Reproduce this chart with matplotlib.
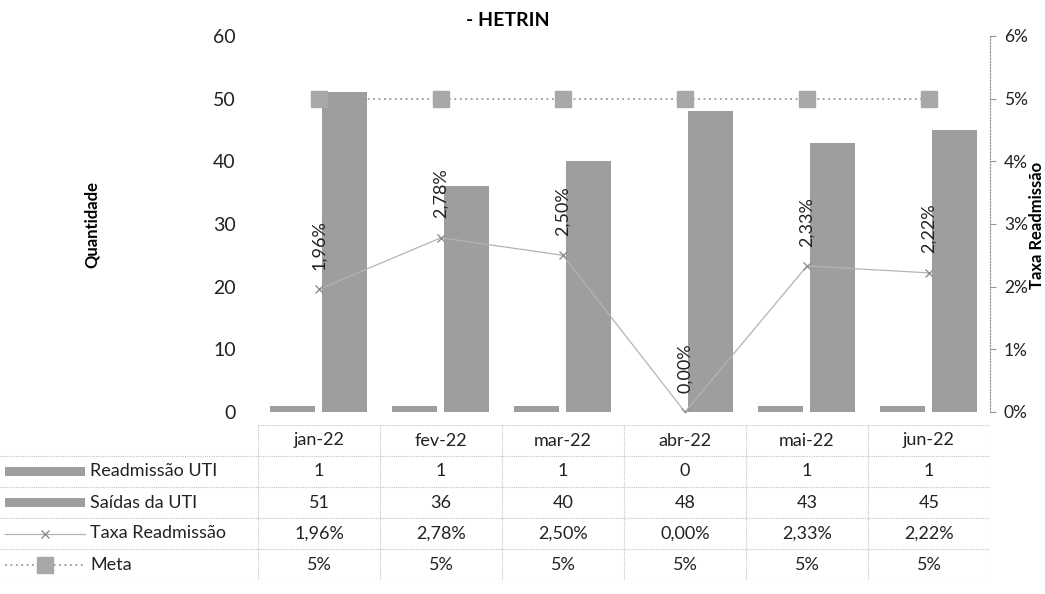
import matplotlib.pyplot as plt
import numpy as np
from matplotlib.patches import Rectangle

plt.rcParams['font.family'] = ['Lato', 'DejaVu Sans']

# data
meses = ['jan-22', 'fev-22', 'mar-22', 'abr-22', 'mai-22', 'jun-22']
readmissao = [1, 1, 1, 0, 1, 1]
saidas = [51, 36, 40, 48, 43, 45]
taxa = [0.0196, 0.0278, 0.0250, 0.0000, 0.0233, 0.0222]
meta = [0.05, 0.05, 0.05, 0.05, 0.05, 0.05]

taxa_txt = ['1,96%', '2,78%', '2,50%', '0,00%', '2,33%', '2,22%']
meta_txt = ['5%', '5%', '5%', '5%', '5%', '5%']

bar_col = '#9e9e9e'
line_col = '#b4b4b4'
grid_col = '#c4c4c4'
W, H = 1045, 594

fig = plt.figure(figsize=(10.45, 5.94), dpi=100)
ax = fig.add_axes([258 / W, 1 - 412 / H, (990 - 258) / W, (412 - 36) / H])
x = np.arange(len(meses))

ax.bar(x - 0.22, readmissao, width=0.37, color=bar_col)
ax.bar(x + 0.21, saidas, width=0.37, color=bar_col)
ax.set_xlim(-0.5, 5.5)
ax.set_ylim(0, 60)
ax.set_yticks(range(0, 61, 10))
ax.set_xticks([])
ax.tick_params(axis='y', length=0, pad=16, labelsize=14, labelcolor='#222222')
for s in ax.spines.values():
    s.set_visible(False)
ax.set_ylabel('Quantidade', fontsize=12, fontweight='bold', labelpad=0)
ax.yaxis.set_label_coords(-(258 - 100) / (990 - 258), 0.5)

ax2 = ax.twinx()
ax2.plot(x, taxa, color=line_col, lw=0.9, marker='x', ms=6, mew=1, mec='#909090')
ax2.plot(x, meta, color='#999999', lw=1.3, ls=(0, (1, 2)), marker='s', ms=12,
         mfc='#a8a8a8', mec='#a8a8a8')
for xi, v, t in zip(x, taxa, taxa_txt):
    ax2.annotate(t, (xi, v), xytext=(0, 14), textcoords='offset points',
                 rotation=90, ha='center', va='bottom', fontsize=13, color='#222222')
ax2.set_ylim(0, 0.06)
ax2.set_yticks(np.arange(0, 0.061, 0.01))
ax2.set_yticklabels(['0%', '1%', '2%', '3%', '4%', '5%', '6%'])
ax2.tick_params(axis='y', length=4, color='#999999', pad=6, labelsize=12.5,
                labelcolor='#222222')
for k in ['top', 'left', 'bottom']:
    ax2.spines[k].set_visible(False)
ax2.spines['right'].set_linestyle((0, (1, 1.5)))
ax2.spines['right'].set_color('#999999')
ax2.spines['right'].set_linewidth(0.9)
fig.text(1037 / W, 1 - 225 / H, 'Taxa Readmissão', rotation=90, ha='center',
         va='center', fontsize=12, fontweight='bold')

fig.text(508 / W, 1 - 20 / H, '- HETRIN', ha='center', va='center',
         fontsize=14, fontweight='bold')

# data table under the chart
tb = fig.add_axes([0, 1 - 580 / H, 990 / W, (580 - 425) / H])
x0 = -0.5 - 258 / 122
tb.set_xlim(x0, 5.5)
tb.set_ylim(5, 0)
tb.axis('off')

def px(p):
    return x0 + p / 122

gl = dict(color=grid_col, lw=0.8, ls=(0, (1, 1)))
tb.plot([-0.5, 5.5], [0, 0], **gl)
for r in range(1, 6):
    tb.plot([x0, 5.5], [r, r], **gl)
for c in np.arange(-0.5, 5.6, 1):
    tb.plot([c, c], [0, 5], **gl)

for i, m in enumerate(meses):
    tb.text(i, 0.5, m, ha='center', va='center', fontsize=13, color='#222222')
rows = [readmissao, saidas, taxa_txt, meta_txt]
for r, vals in enumerate(rows):
    for i, v in enumerate(vals):
        tb.text(i, r + 1.5, str(v), ha='center', va='center', fontsize=13,
                color='#222222')

names = ['Readmissão UTI', 'Saídas da UTI', 'Taxa Readmissão', 'Meta']
for r, n in enumerate(names):
    tb.text(px(90), r + 1.5, n, ha='left', va='center', fontsize=13,
            color='#222222')
for r in [0, 1]:
    tb.add_patch(Rectangle((px(5), r + 1.5 - 0.15), 80 / 122, 0.3,
                           color=bar_col, lw=0))
tb.plot([px(5), px(85)], [3.5, 3.5], color=line_col, lw=0.9)
tb.plot([px(45)], [3.5], marker='x', ms=6, color='#909090')
tb.plot([px(5), px(85)], [4.5, 4.5], color='#999999', lw=1.3, ls=(0, (1, 2)))
tb.plot([px(45)], [4.5], marker='s', ms=11, color='#a8a8a8')

fig.savefig('out.png', dpi=100)
